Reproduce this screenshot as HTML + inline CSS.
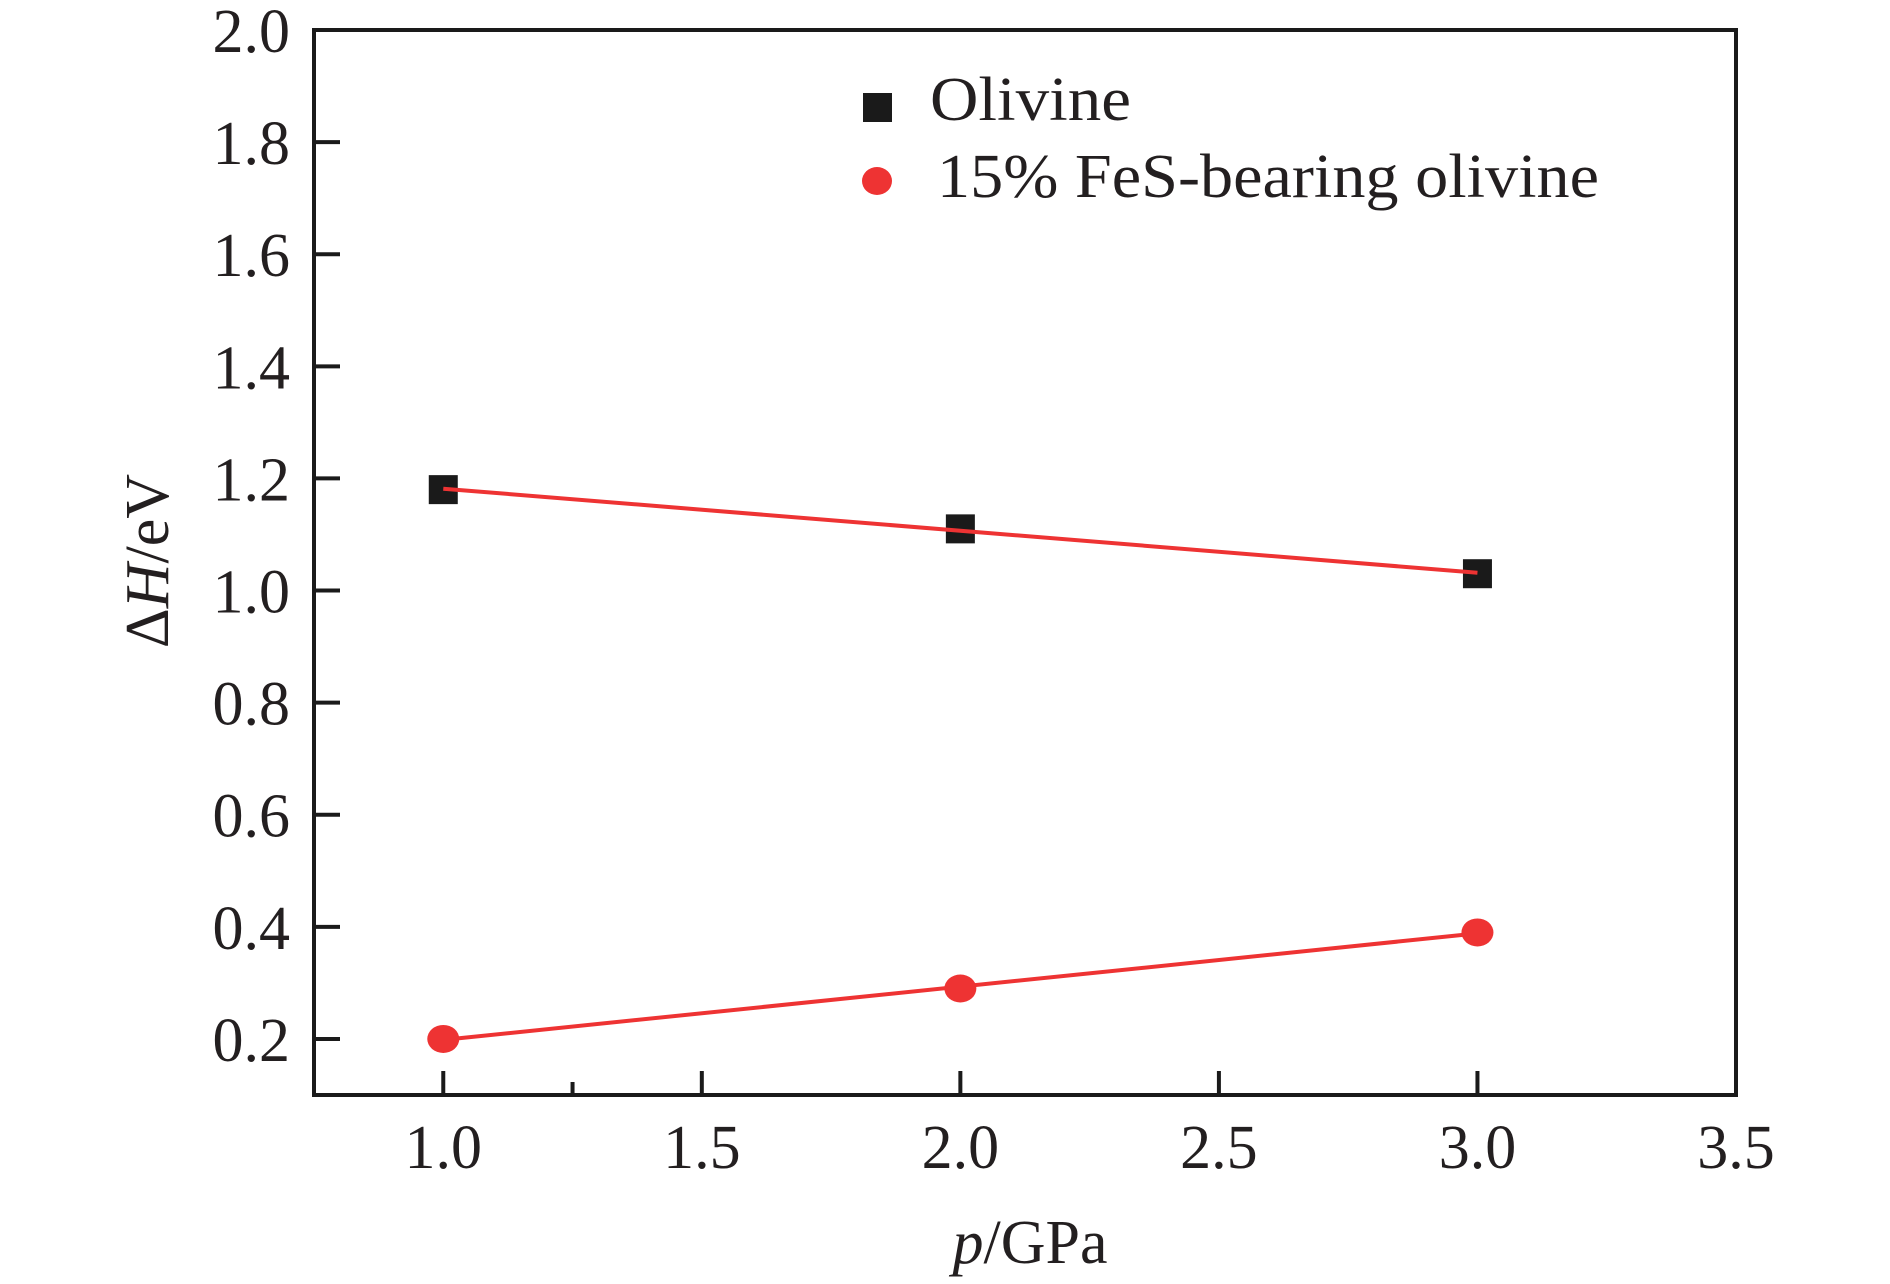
<!DOCTYPE html>
<html><head><meta charset="utf-8"><style>
html,body{margin:0;padding:0;background:#fff;}
svg{display:block;font-family:"Liberation Serif",serif;}
</style></head><body>
<svg id="chart" width="1890" height="1284" viewBox="0 0 1890 1284" xmlns="http://www.w3.org/2000/svg">
<g id="axes"></g>
<g id="series"></g>
<g id="legend">
  <rect x="863" y="93" width="29" height="29" fill="#1a1a1a"/>
  <text x="930" y="120" font-size="62" fill="#231f20" textLength="201" lengthAdjust="spacingAndGlyphs">Olivine</text>
  <ellipse cx="877" cy="181" rx="15" ry="14" fill="#ee3333"/>
  <text x="937" y="197" font-size="62" fill="#231f20" textLength="662" lengthAdjust="spacingAndGlyphs">15% FeS-bearing olivine</text>
</g>
<text transform="translate(168,561) rotate(-90)" text-anchor="middle" font-size="62" fill="#231f20">Δ<tspan font-style="italic">H</tspan>/eV</text>
<text x="1030" y="1263" text-anchor="middle" font-size="62" fill="#231f20"><tspan font-style="italic">p</tspan>/GPa</text>
</svg>
<script>
const pressures = [1.0, 2.0, 3.0];
const olivineValues = [1.18, 1.11, 1.03];
const fesValues = [0.20, 0.29, 0.39];
const xTicks = [1.0, 1.5, 2.0, 2.5, 3.0, 3.5];
const xTickLabels = ["1.0", "1.5", "2.0", "2.5", "3.0", "3.5"];
const xMinorTicks = [1.25];
const yTicks = [0.2, 0.4, 0.6, 0.8, 1.0, 1.2, 1.4, 1.6, 1.8, 2.0];
const yTickLabels = ["0.2", "0.4", "0.6", "0.8", "1.0", "1.2", "1.4", "1.6", "1.8", "2.0"];

const NS = "http://www.w3.org/2000/svg";
const L = 314, R = 1736, T = 30, B = 1095;
const xMin = 0.75, xMax = 3.5, yMin = 0.1, yMax = 2.0;
function sx(v){ return L + (v - xMin) / (xMax - xMin) * (R - L); }
function sy(v){ return B - (v - yMin) / (yMax - yMin) * (B - T); }
function mk(tag, attrs, parent){ const e = document.createElementNS(NS, tag); for (const k in attrs) e.setAttribute(k, attrs[k]); parent.appendChild(e); return e; }

const axes = document.getElementById('axes');
const frame = mk('rect', {x:L, y:T, width:R-L, height:B-T, fill:'none', stroke:'#1a1a1a', 'stroke-width':4}, axes);



xTicks.forEach((v, i) => {
  const t = mk('line', {x1:sx(v), x2:sx(v), y1:B, y2:B-24, stroke:'#1a1a1a', 'stroke-width':4}, axes);
  
  
  const lb = mk('text', {x:sx(v), y:1168, 'text-anchor':'middle', 'font-size':62, fill:'#231f20'}, axes);
  lb.textContent = xTickLabels[i];
  
  
});
xMinorTicks.forEach(v => {
  const t = mk('line', {x1:sx(v), x2:sx(v), y1:B, y2:B-13, stroke:'#1a1a1a', 'stroke-width':4}, axes);
  
  
});
yTicks.forEach((v, i) => {
  const t = mk('line', {x1:L, x2:L+26, y1:sy(v), y2:sy(v), stroke:'#1a1a1a', 'stroke-width':4}, axes);
  
  
  const lb = mk('text', {x:290, y:sy(v)+22, 'text-anchor':'end', 'font-size':62, fill:'#231f20'}, axes);
  lb.textContent = yTickLabels[i];
  
  
});

function fit(xs, ys){
  const n = xs.length; const mx = xs.reduce((a,b)=>a+b,0)/n; const my = ys.reduce((a,b)=>a+b,0)/n;
  let num=0, den=0; xs.forEach((x,i)=>{num+=(x-mx)*(ys[i]-my); den+=(x-mx)*(x-mx);});
  const m = num/den; return [m, my - m*mx];
}
const series = document.getElementById('series');
pressures.forEach((p, i) => {
  const s = mk('rect', {x:sx(p)-14.5, y:sy(olivineValues[i])-14.5, width:29, height:29, fill:'#1a1a1a'}, series);
  
  
});
[[olivineValues,'olivine'],[fesValues,'fes']].forEach(([vals,name]) => {
  const [m, b] = fit(pressures, vals);
  const x0 = pressures[0], x1 = pressures[pressures.length-1];
  const ln = mk('line', {x1:sx(x0), y1:sy(m*x0+b), x2:sx(x1), y2:sy(m*x1+b), stroke:'#ee3333', 'stroke-width':4}, series);
  
  
});
pressures.forEach((p, i) => {
  const c = mk('ellipse', {cx:sx(p), cy:sy(fesValues[i]), rx:16, ry:14, fill:'#ee3333'}, series);
  
  
});
</script>
</body></html>
